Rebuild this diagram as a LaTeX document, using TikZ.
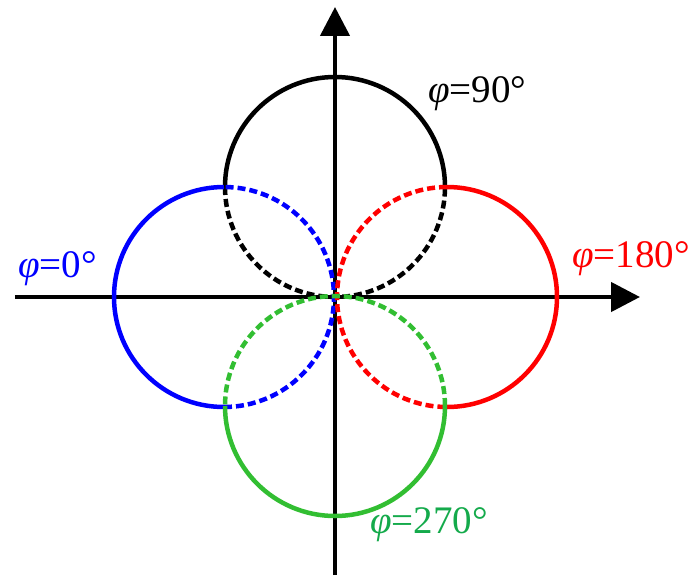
\documentclass[tikz,border=0pt]{standalone}
\usepackage{fontspec}
\setmainfont{Liberation Serif}
\usetikzlibrary{arrows.meta}
\definecolor{cgreen}{RGB}{50,190,50}
\definecolor{tgreen}{RGB}{20,170,75}
\begin{document}
\begin{tikzpicture}[x=1pt,y=1pt,
  axis/.style={line width=4.5pt,-{Triangle[length=29pt,width=29pt]}},
  solidarc/.style={line width=4.5pt},
  dasharc/.style={line width=4.5pt,dash pattern=on 8pt off 4pt},
  lab/.style={anchor=base west,inner sep=0pt,font=\fontsize{39}{43}\selectfont}]
\useasboundingbox (-335,-287) rectangle (365,297);
\coordinate (xl) at (-320,0);
\coordinate (xr) at (305,0);
\coordinate (yb) at (0,-278);
\coordinate (yt) at (0,290);
\draw[axis] (xl) -- (xr);
\draw[axis] (yb) -- (yt);
% black (90)
\draw[solidarc,black] (110,110) arc[start angle=0,end angle=180,radius=110];
\draw[dasharc,black] (-110,110) arc[start angle=180,end angle=360,radius=110];
% blue (0)
\draw[solidarc,blue] (-111,110) arc[start angle=90,end angle=270,radius=110];
\draw[dasharc,blue] (-111,-110) arc[start angle=-90,end angle=90,radius=110];
% red (180)
\draw[solidarc,red] (112,-110) arc[start angle=-90,end angle=90,radius=110];
\draw[dasharc,red] (112,110) arc[start angle=90,end angle=270,radius=110];
% green (270)
\draw[solidarc,cgreen] (-110,-109) arc[start angle=180,end angle=360,radius=110];
\draw[dasharc,cgreen] (110,-109) arc[start angle=0,end angle=180,radius=110];
\node[lab,black] (l90) at (93,194) {\textit{φ}=90°};
\node[lab,blue] (l0) at (-317,20) {\textit{φ}=0°};
\node[lab,red] (l180) at (237,30) {\textit{φ}=180°};
\node[lab,tgreen] (l270) at (35,-236) {\textit{φ}=270°};
\end{tikzpicture}
\end{document}
